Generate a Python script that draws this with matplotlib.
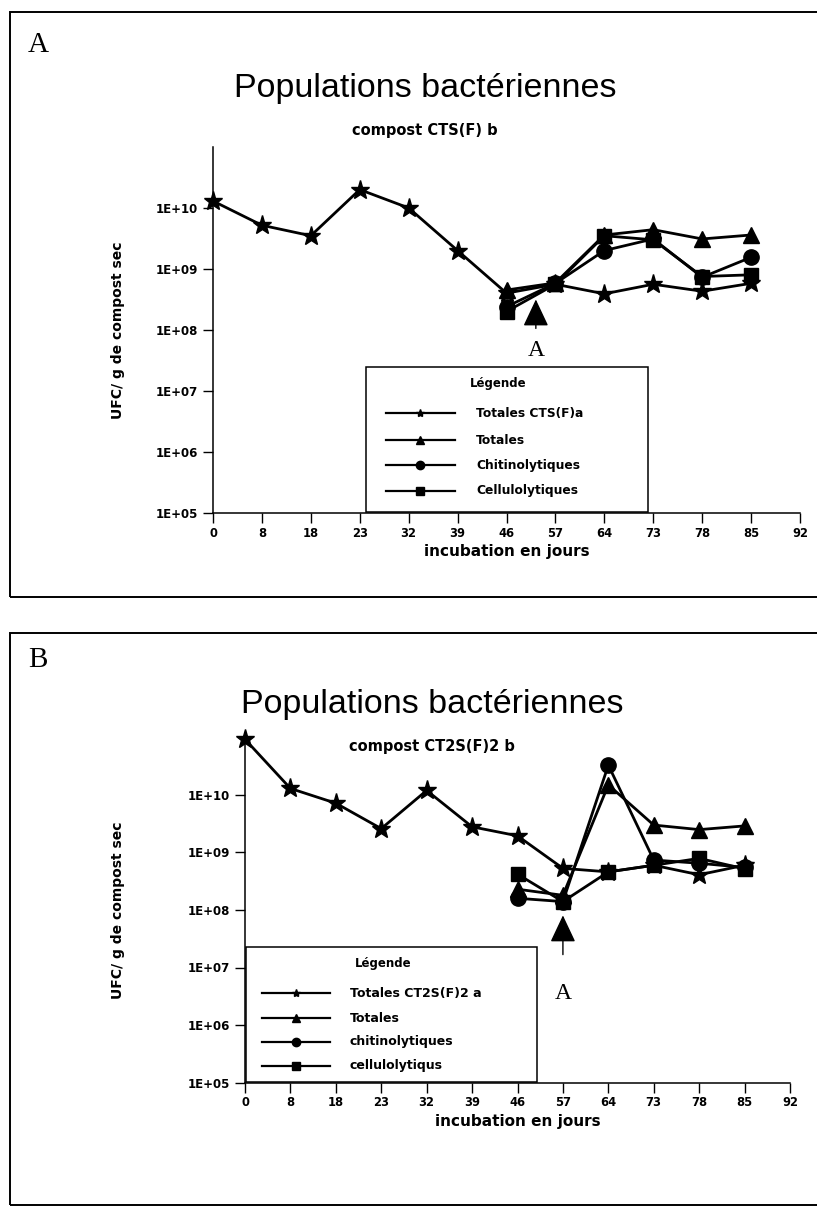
import matplotlib.pyplot as plt
from matplotlib.lines import Line2D
from matplotlib.patches import Rectangle

plt.rcParams["font.family"] = ["Liberation Sans", "DejaVu Sans"]

W, H = 817, 1216
DPI = 100
BOLD = dict(family="DejaVu Sans", fontweight="bold")

days = ["0", "8", "18", "23", "32", "39", "46", "57", "64", "73", "78", "85", "92"]
idx_all = list(range(12))
idx_late = list(range(6, 12))

# compost CTS(F) b
a_totales_ref = [1.3e10, 5.2e9, 3.5e9, 2.0e10, 1.0e10, 2.0e9, 4.0e8, 5.6e8, 3.9e8, 5.6e8, 4.3e8, 5.8e8]
a_totales = [4.5e8, 5.9e8, 3.6e9, 4.4e9, 3.1e9, 3.6e9]
a_chitino = [2.4e8, 5.8e8, 2.0e9, 3.1e9, 7.3e8, 1.55e9]
a_cellulo = [2.0e8, 5.6e8, 3.5e9, 3.0e9, 7.5e8, 8.0e8]

# compost CT2S(F)2 b
b_totales_ref = [9.3e10, 1.3e10, 7.2e9, 2.6e9, 1.2e10, 2.8e9, 1.95e9, 5.3e8, 4.6e8, 6.0e8, 4.1e8, 6.0e8]
b_totales = [2.3e8, 1.8e8, 1.5e10, 3.0e9, 2.5e9, 2.9e9]
b_chitino = [1.6e8, 1.4e8, 3.3e10, 7.4e8, 6.5e8, 5.5e8]
b_cellulo = [4.2e8, 1.4e8, 4.6e8, 6.0e8, 7.9e8, 5.2e8]

ytick_vals = [1e5, 1e6, 1e7, 1e8, 1e9, 1e10]
ytick_labels = ["1E+05", "1E+06", "1E+07", "1E+08", "1E+09", "1E+10"]

fig = plt.figure(figsize=(W / DPI, H / DPI), dpi=DPI)


def fx(px):
    return px / W


def fy(py):
    return 1 - py / H


def panel(box, ref, tot, chi, cel, titles, legend_box, legend_labels, arrow):
    left, top, right, bottom = box
    ax = fig.add_axes([fx(left), fy(bottom), fx(right - left), (bottom - top) / H])
    ax.set_yscale("log")
    ax.set_xlim(0, 12)
    ax.set_ylim(1e5, 1e11)
    ax.set_xticks(range(13))
    ax.set_xticklabels(days, fontsize=8.3, **BOLD)
    ax.set_yticks(ytick_vals)
    ax.set_yticklabels(ytick_labels, fontsize=8.5, **BOLD)
    ax.yaxis.set_minor_locator(plt.NullLocator())
    ax.tick_params(length=7, width=1, pad=3)
    ax.tick_params(axis="y", pad=4)
    for s in ["top", "right"]:
        ax.spines[s].set_visible(False)
    for s in ["left", "bottom"]:
        ax.spines[s].set_linewidth(1.1)
    ax.set_xlabel("incubation en jours", fontsize=11, labelpad=3, **BOLD)
    ax.set_ylabel("UFC/ g de compost sec", fontsize=10, **BOLD)
    ax.yaxis.set_label_coords((125 - left) / (right - left), 0.5)

    kw = dict(color="black", lw=2, clip_on=False)
    ax.plot(idx_all, ref, marker="*", ms=14, **kw)
    ax.plot(idx_late, tot, marker="^", ms=11, **kw)
    ax.plot(idx_late, chi, marker="o", ms=11, **kw)
    ax.plot(idx_late, cel, marker="s", ms=10, **kw)

    # arrow marking event A
    ax_x, tip, tail, label_y = arrow
    ax.annotate("", xy=(ax_x, tip), xytext=(ax_x, tail),
                arrowprops=dict(arrowstyle="-|>,head_length=0.85,head_width=0.4",
                                mutation_scale=20, color="black", lw=1))
    ax.text(ax_x, label_y, "A", ha="center", va="center", fontsize=17,
            family="Liberation Serif")

    # title block
    letter, letter_xy, title, title_y, subtitle, sub_y, cx = titles
    fig.text(fx(cx), fy(title_y), title, ha="center", va="center", fontsize=24.5)
    fig.text(fx(cx), fy(sub_y), subtitle, ha="center", va="center",
             fontsize=10.5, **BOLD)
    fig.text(fx(letter_xy[0]), fy(letter_xy[1]), letter, ha="left", va="center",
             fontsize=21, family="Liberation Serif")

    # legend box
    lx0, ly0, lx1, ly1, line_x0, line_x1, text_x, title_x, rows, fs = legend_box
    fig.add_artist(Rectangle((fx(lx0), fy(ly1)), fx(lx1 - lx0), (ly1 - ly0) / H,
                             transform=fig.transFigure, facecolor="white",
                             edgecolor="black", lw=1.1))
    fig.text(fx(title_x), fy(ly0 + 17), "Légende", ha="center", va="center",
             fontsize=8.5, **BOLD)
    markers = [("*", 6), ("^", 6), ("o", 6), ("s", 5.5)]
    for (m, ms), lab, ry in zip(markers, legend_labels, rows):
        fig.add_artist(Line2D([fx(line_x0), fx(line_x1)], [fy(ry), fy(ry)],
                              transform=fig.transFigure, color="black", lw=1.6))
        fig.add_artist(Line2D([fx((line_x0 + line_x1) / 2)], [fy(ry)],
                              transform=fig.transFigure, color="black",
                              marker=m, ms=ms))
        fig.text(fx(text_x), fy(ry), lab, ha="left", va="center", fontsize=fs,
                 **BOLD)
    return ax


panel((213, 147, 800, 512.7), a_totales_ref, a_totales, a_chitino, a_cellulo,
      ("A", (28, 45), "Populations bactériennes", 88, "compost CTS(F) b", 130, 425),
      (366, 367, 648, 512, 386, 455, 476, 498, [413, 440, 465, 491], 8.8),
      ["Totales CTS(F)a", "Totales", "Chitinolytiques", "Cellulolytiques"],
      (6.6, 3.5e8, 9.5e7, 4.6e7))

panel((245, 737.5, 790, 1082.5), b_totales_ref, b_totales, b_chitino, b_cellulo,
      ("B", (28, 660), "Populations bactériennes", 705, "compost CT2S(F)2 b", 747, 432),
      (246, 947, 537, 1082, 262, 330, 350, 383, [993, 1018, 1042, 1066], 9),
      ["Totales CT2S(F)2 a", "Totales", "chitinolytiques", "cellulolytiqus"],
      (7, 9.0e7, 1.5e7, 3.5e6))

# panel frames
for y0, y1 in [(12, 597), (633, 1205)]:
    fig.add_artist(Rectangle((fx(10), fy(y1)), fx(W + 20), (y1 - y0) / H,
                             transform=fig.transFigure, fill=False,
                             edgecolor="black", lw=1.4, clip_on=False))

fig.savefig("out.png", dpi=DPI)
